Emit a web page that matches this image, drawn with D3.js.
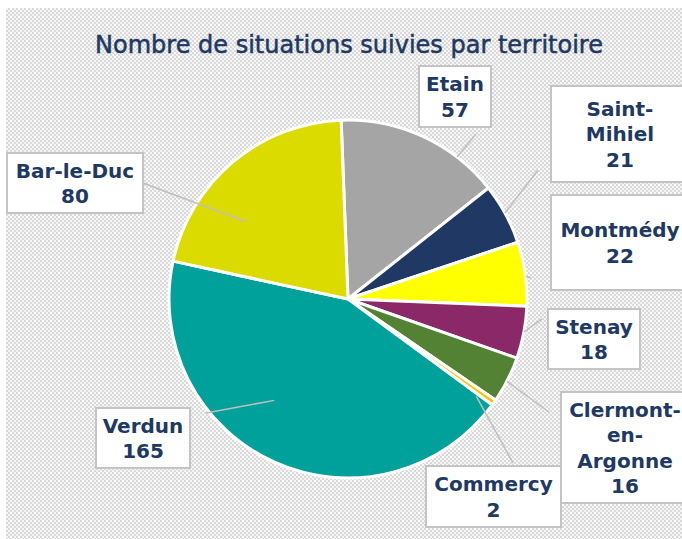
<!DOCTYPE html>
<html>
<head>
<meta charset="utf-8">
<script src="https://cdn.jsdelivr.net/npm/d3@7"></script>
<style>
  body { margin: 0; background: #fff; }
</style>
</head>
<body>
<div id="chart"></div>
<script>
var width = 682, height = 539;

// data
var territories = ["Etain", "Saint-Mihiel", "Montmédy", "Stenay", "Clermont-en-Argonne", "Commercy", "Verdun", "Bar-le-Duc"];
var values = [57, 21, 22, 18, 16, 2, 165, 80];
var labelLines = [["Etain"], ["Saint-", "Mihiel"], ["Montmédy"], ["Stenay"], ["Clermont-", "en-", "Argonne"], ["Commercy"], ["Verdun"], ["Bar-le-Duc"]];
var colors = ["#a5a5a5", "#203864", "#ffff00", "#8b2868", "#548235", "#ffc000", "#00a19a", "#dbdb00"];

// label layout (box x, y, w, h) + leader start + leader end (angle deg, radius fraction)
var boxes = [[419, 66, 72, 61], [551, 86, 138, 96], [551, 195, 138, 95], [548, 309, 92, 60],
             [561, 392, 128, 111], [426, 466, 135, 61], [96, 408, 94, 60], [7, 153, 136, 60]];
var leadFrom = [[476, 134], [538, 170], [531, 278], [542, 319], [549, 412], [513, 463], [206, 413], [143, 183]];
var leadTo = [[37.5, 1], [61.3, 1], [82.7, 1], [100.6, 1], [117.4, 1], [127.2, 0.9], [216, 0.7], [307, 0.72]];

var cx = 348, cy = 299, radius = 179;
var navy = "#203864";

var svg = d3.select("#chart")
    .append("svg")
    .attr("width", width)
    .attr("height", height);

// checkered background
var defs = svg.append("defs");
var pat = defs.append("pattern")
    .attr("id", "checker")
    .attr("width", 8).attr("height", 8)
    .attr("patternUnits", "userSpaceOnUse");
pat.append("rect").attr("width", 8).attr("height", 8).attr("fill", "#f5f5f5");
[[0, 0], [4, 0], [2, 2], [6, 2], [0, 4], [4, 4], [2, 6], [6, 6]].forEach(function (p) {
    pat.append("rect").attr("x", p[0]).attr("y", p[1]).attr("width", 2).attr("height", 2).attr("fill", "#d9d9d9");
});
pat.append("rect").attr("x", 2).attr("y", 0).attr("width", 2).attr("height", 2).attr("fill", "#ffffff");

svg.append("rect")
    .attr("x", 6).attr("y", 8)
    .attr("width", width - 6).attr("height", height - 8)
    .attr("fill", "url(#checker)");

// title
svg.append("text")
    .attr("x", 349)
    .attr("y", 53)
    .attr("text-anchor", "middle")
    .style("font-family", "'DejaVu Sans', sans-serif")
    .style("font-size", "24px")
    .style("fill", navy)
    .style("stroke", navy)
    .style("stroke-width", 0.5)
    .text("Nombre de situations suivies par territoire");

// pie
var start = -2.2 * Math.PI / 180;
var pie = d3.pie().sort(null).value(function (d) { return d; })
    .startAngle(start).endAngle(start + 2 * Math.PI);
var arc = d3.arc().innerRadius(0).outerRadius(radius);

var g = svg.append("g").attr("transform", "translate(" + cx + "," + cy + ")");
g.selectAll("path")
    .data(pie(values))
    .enter()
    .append("path")
    .attr("d", arc)
    .attr("fill", function (d, i) { return colors[i]; })
    .attr("stroke", "#fff")
    .attr("stroke-width", 3)
    .attr("stroke-linejoin", "round");

// leader lines
svg.selectAll("line.leader")
    .data(territories)
    .enter()
    .append("line")
    .attr("class", "leader")
    .attr("x1", function (d, i) { return leadFrom[i][0]; })
    .attr("y1", function (d, i) { return leadFrom[i][1]; })
    .attr("x2", function (d, i) { return cx + radius * leadTo[i][1] * Math.sin(leadTo[i][0] * Math.PI / 180); })
    .attr("y2", function (d, i) { return cy - radius * leadTo[i][1] * Math.cos(leadTo[i][0] * Math.PI / 180); })
    .attr("stroke", "#bfbfbf")
    .attr("stroke-width", 1.5);

// label boxes
var lab = svg.selectAll("g.lab")
    .data(territories)
    .enter()
    .append("g")
    .attr("class", "lab");

lab.append("rect")
    .attr("x", function (d, i) { return boxes[i][0]; })
    .attr("y", function (d, i) { return boxes[i][1]; })
    .attr("width", function (d, i) { return boxes[i][2]; })
    .attr("height", function (d, i) { return boxes[i][3]; })
    .attr("fill", "#fff")
    .attr("stroke", "#c4c4c4")
    .attr("stroke-width", 2);

var lineH = 25.5, capH = 14.5;
lab.each(function (d, i) {
    var lines = labelLines[i].concat([String(values[i])]);
    var b = boxes[i];
    var mx = b[0] + b[2] / 2, my = b[1] + b[3] / 2;
    var blockH = (lines.length - 1) * lineH + capH;
    var y0 = my - blockH / 2 + capH;
    var t = d3.select(this).append("text")
        .attr("text-anchor", "middle")
        .style("font-family", "'DejaVu Sans', sans-serif")
        .style("font-weight", "bold")
        .style("font-size", "20px")
        .style("fill", navy);
    lines.forEach(function (s, k) {
        t.append("tspan").attr("x", mx).attr("y", y0 + k * lineH).text(s);
    });
});
</script>
</body>
</html>
